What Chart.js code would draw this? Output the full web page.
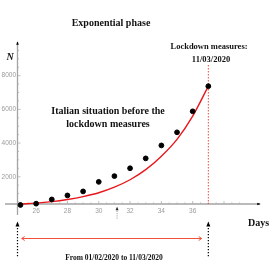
<!DOCTYPE html>
<html>
<head>
<meta charset="utf-8">
<script src="https://cdn.jsdelivr.net/npm/chart.js@4.4.1/dist/chart.umd.min.js"></script>
<style>
html,body{margin:0;padding:0;background:#fff;}
#wrap{width:273px;height:273px;position:relative;}
</style>
</head>
<body>
<div id="wrap"><canvas id="c" width="273" height="273"></canvas></div>
<script>
// ---- data ----
const days = [25, 26, 27, 28, 29, 30, 31, 32, 33, 34, 35, 36, 37];
const cases = [322, 400, 650, 888, 1128, 1694, 2036, 2502, 3089, 3858, 4636, 5883, 7375];
const fitDays = [25, 26, 27, 28, 29, 30, 31, 32, 33, 34, 35, 36, 37];
const fitValues = [380, 430, 520, 650, 820, 1050, 1380, 1820, 2420, 3220, 4220, 5600, 7380];
const xTickValues = [26, 28, 30, 32, 34, 36];
const yTickValues = [2000, 4000, 6000, 8000];
const lockdownDay = 37;
const markerDay = 31.17;
const titleText = 'Exponential phase';
const yAxisTitle = 'N';
const xAxisTitle = 'Days';
const lockdownLines = ['Lockdown measures:', '11/03/2020'];
const noteLines = ['Italian situation before the', 'lockdown measures'];
const periodText = 'From 01/02/2020 to 11/03/2020';

const X_MIN = 24.81, X_MAX = 40.3, Y_MIN = 380, Y_MAX = 10000;

const serifBold = '"Liberation Serif", "Times New Roman", serif';
const sansFam = '"Liberation Sans", Arial, sans-serif';

function tri(ctx, x, y, w, h, dir) {
  ctx.beginPath();
  if (dir === 'up') { ctx.moveTo(x, y - h/2); ctx.lineTo(x + w/2, y + h/2); ctx.lineTo(x - w/2, y + h/2); }
  else { ctx.moveTo(x + h/2, y); ctx.lineTo(x - h/2, y - w/2); ctx.lineTo(x - h/2, y + w/2); }
  ctx.closePath(); ctx.fill();
}

const decor = {
  id: 'decor',
  beforeDatasetsDraw(chart) {
    const ctx = chart.ctx, xs = chart.scales.x, ys = chart.scales.y;
    const ca = chart.chartArea;
    const axisY = ys.getPixelForValue(Y_MIN);
    const axisX = xs.getPixelForValue(X_MIN);
    ctx.save();
    ctx.strokeStyle = '#a3a3a3'; ctx.lineWidth = 1.3;
    ctx.beginPath(); ctx.moveTo(5, axisY); ctx.lineTo(ca.right, axisY); ctx.stroke();
    ctx.beginPath(); ctx.moveTo(axisX, 215); ctx.lineTo(axisX, ca.top); ctx.stroke();
    ctx.lineWidth = 0.8; ctx.strokeStyle = '#b0b0b0';
    for (let d = 25; d <= 39.01; d += 0.5) {
      const px = xs.getPixelForValue(d);
      const major = Math.abs(d % 2) < 0.01;
      ctx.beginPath(); ctx.moveTo(px, axisY); ctx.lineTo(px, axisY - (major ? 3 : 1.6)); ctx.stroke();
    }
    for (let v = 500; v <= 9500; v += 500) {
      const py = ys.getPixelForValue(v);
      const major = v % 2000 === 0;
      ctx.beginPath(); ctx.moveTo(axisX, py); ctx.lineTo(axisX + (major ? 3 : 1.6), py); ctx.stroke();
    }
    ctx.fillStyle = '#000';
    tri(ctx, axisX, ca.top + 1, 2.6, 3.5, 'up');
    tri(ctx, ca.right - 1, axisY, 2.6, 3.5, 'right');
    const lx = xs.getPixelForValue(lockdownDay);
    ctx.strokeStyle = '#e8392c'; ctx.lineWidth = 0.9; ctx.setLineDash([1.5, 1.5]);
    ctx.beginPath(); ctx.moveTo(lx, 65); ctx.lineTo(lx, axisY); ctx.stroke();
    ctx.setLineDash([]);
    ctx.restore();
  },
  afterDraw(chart) {
    const ctx = chart.ctx, xs = chart.scales.x;
    const axisX = xs.getPixelForValue(X_MIN);
    const lx = xs.getPixelForValue(lockdownDay);
    ctx.save();
    ctx.fillStyle = '#111';
    ctx.textAlign = 'center'; ctx.textBaseline = 'middle';
    ctx.font = 'bold 10px ' + serifBold;
    ctx.fillText(titleText, 111, 23);
    ctx.fillText(noteLines[0], 108, 111);
    ctx.fillText(noteLines[1], 108, 124);
    ctx.fillText(xAxisTitle, 258.5, 223.5);
    ctx.font = 'italic bold 10px ' + serifBold;
    ctx.fillText(yAxisTitle, 10, 57);
    ctx.font = 'bold 8.5px ' + serifBold;
    ctx.fillText(lockdownLines[0], 209, 47);
    ctx.fillText(lockdownLines[1], 211, 59.5);
    ctx.font = 'bold 7.5px ' + serifBold;
    ctx.fillText(periodText, 114, 258);
    ctx.fillStyle = '#000';
    [axisX, lx].forEach(x => {
      tri(ctx, x, 224, 4, 5, 'up');
      ctx.strokeStyle = '#000'; ctx.lineWidth = 1.2; ctx.setLineDash([1.2, 1.8]);
      ctx.beginPath(); ctx.moveTo(x, 228); ctx.lineTo(x, 258); ctx.stroke();
      ctx.setLineDash([]);
    });
    const mx = xs.getPixelForValue(markerDay);
    ctx.fillStyle = '#222';
    tri(ctx, mx, 208.5, 3, 3.5, 'up');
    ctx.strokeStyle = '#888'; ctx.lineWidth = 0.9; ctx.setLineDash([1, 1.2]);
    ctx.beginPath(); ctx.moveTo(mx, 211); ctx.lineTo(mx, 219.5); ctx.stroke();
    ctx.setLineDash([]);
    const ax1 = 21.7, ax2 = 201.7, ay = 238.5;
    ctx.strokeStyle = '#f0503c'; ctx.lineWidth = 1;
    ctx.beginPath(); ctx.moveTo(ax1, ay); ctx.lineTo(ax2, ay); ctx.stroke();
    ctx.beginPath();
    ctx.moveTo(ax1 + 3, ay - 2); ctx.lineTo(ax1, ay); ctx.lineTo(ax1 + 3, ay + 2);
    ctx.moveTo(ax2 - 3, ay - 2); ctx.lineTo(ax2, ay); ctx.lineTo(ax2 - 3, ay + 2);
    ctx.stroke();
    ctx.restore();
  }
};

new Chart(document.getElementById('c'), {
  type: 'scatter',
  data: {
    datasets: [
      {
        label: 'Cases',
        data: days.map((d, i) => ({ x: d, y: cases[i] })),
        backgroundColor: '#000', borderColor: '#000',
        pointRadius: 2.4, pointHoverRadius: 2.4, showLine: false, clip: false, order: 1
      },
      {
        label: 'Fit',
        data: fitDays.map((d, i) => ({ x: d, y: fitValues[i] })),
        showLine: true, borderColor: '#e8161b', borderWidth: 1.4,
        pointRadius: 0, cubicInterpolationMode: 'monotone', fill: false, clip: false, order: 2
      }
    ]
  },
  options: {
    responsive: false, animation: false, devicePixelRatio: 1,
    layout: { padding: { top: 42, right: 13, left: 0, bottom: 0 } },
    plugins: { legend: { display: false }, tooltip: { enabled: false }, title: { display: false } },
    scales: {
      x: {
        type: 'linear', min: X_MIN, max: X_MAX,
        grid: { display: false, drawTicks: false }, border: { display: false },
        afterBuildTicks: s => { s.ticks = xTickValues.map(v => ({ value: v })); },
        afterFit: s => { s.height = 69; },
        ticks: { color: '#9a9a9a', font: { size: 6.5, family: sansFam }, padding: 3, maxRotation: 0, autoSkip: false,
                 callback: v => String(v) }
      },
      y: {
        type: 'linear', min: Y_MIN, max: Y_MAX,
        grid: { display: false, drawTicks: false }, border: { display: false },
        afterBuildTicks: s => { s.ticks = yTickValues.map(v => ({ value: v })); },
        afterFit: s => { s.width = 17.5; },
        ticks: { color: '#9a9a9a', font: { size: 6.5, family: sansFam }, padding: 1.5, autoSkip: false,
                 callback: v => String(v) }
      }
    }
  },
  plugins: [decor]
});
</script>
</body>
</html>
